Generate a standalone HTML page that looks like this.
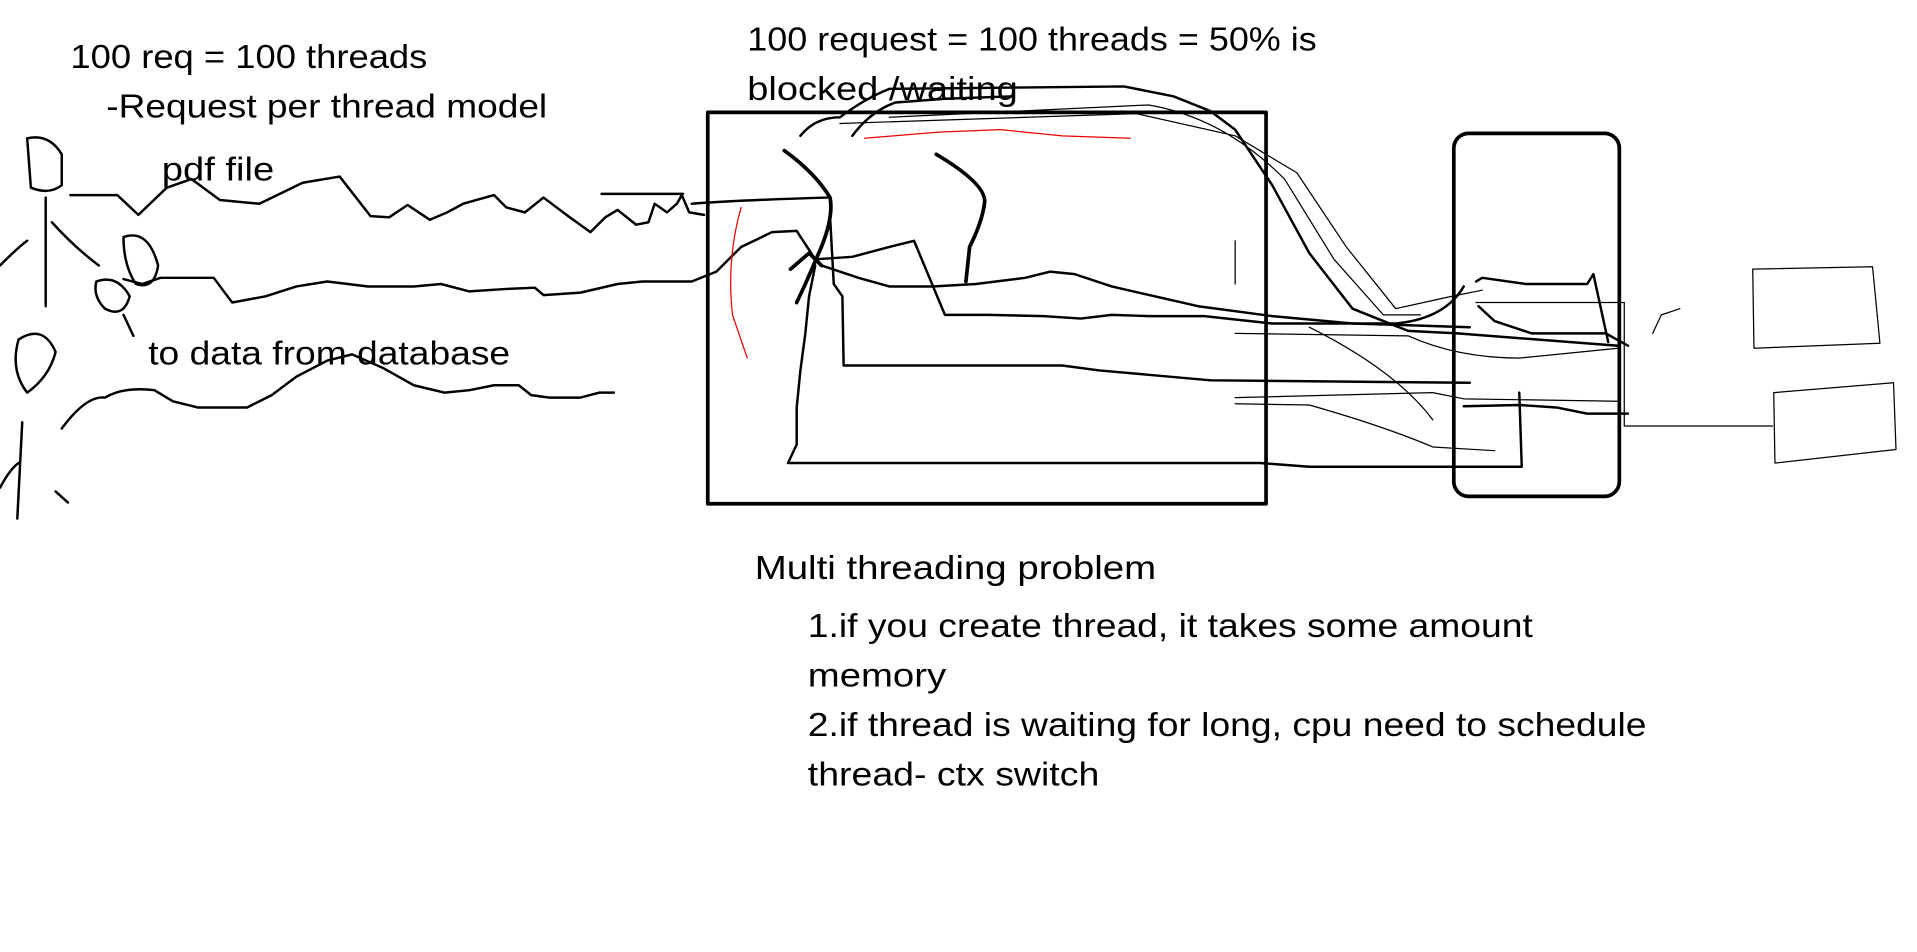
<!DOCTYPE html>
<html><head><meta charset="utf-8"><style>
html,body{margin:0;padding:0;background:#fff;width:1917px;height:952px;overflow:hidden}
svg{display:block}
text{font-family:"Liberation Sans",sans-serif;font-size:27px;fill:#000}
</style></head><body>
<svg width="1917" height="952" viewBox="0 0 1552 771" preserveAspectRatio="none">
<g fill="none" stroke="#000" stroke-linecap="round" stroke-linejoin="round">
<rect x="573" y="91" width="452" height="317" stroke-width="3"/>
<rect x="1177" y="108" width="134" height="294" rx="12" stroke-width="3"/>
<g stroke-width="2">
<path d="M22 112 Q40 108 50 125 L50 150 Q40 158 25 152 L22 112"/>
<path d="M37 160 L37 248"/>
<path d="M0 215 Q15 200 22 195"/>
<path d="M42 180 Q60 200 80 215"/>
<path d="M100 192 Q120 185 128 215 Q125 235 110 230 Q100 215 100 192"/>
<path d="M78 228 Q95 222 105 240 Q100 258 85 250 Q75 240 78 228 M100 255 L108 272"/>
<path d="M15 275 Q35 262 45 285 Q40 305 22 318 Q8 300 15 275"/>
<path d="M18 342 L14 420 M0 395 Q8 380 15 375 M45 398 L55 407"/>
<path d="M57 158 L95 158 L112 174 L135 152 L155 145 L178 162 L210 165 L245 148 L275 143 L300 175 L315 176 L330 166 L348 178 L362 172 L375 165 L400 158 L410 168 L425 172 L440 160 L460 175 L478 188 L490 176 L500 170 L515 182 L525 180 L530 165 L540 172 L548 165 L552 158 L558 172 L570 174 M487 157 L553 157"/>
<path d="M560 165 Q600 162 670 160"/>
<path d="M100 226 L115 230 L130 225 L173 225 L188 245 L215 240 L240 232 L265 228 L298 232 L335 232 L357 230 L380 236 L410 234 L433 233 L440 239 L470 237 L500 230 L520 228 L560 228 L580 220 L600 200 L625 188 L645 187 L660 210 L690 208 L720 200 L740 195 L765 255 L800 255 L845 256 L875 258 L900 255 L930 256 L975 256 L1030 262 L1130 262 Q1170 258 1185 232"/>
<path d="M50 347 Q70 320 85 322 Q100 313 125 316 L140 325 L160 330 L200 330 L220 320 L240 305 L265 292 L285 287 L310 298 L335 312 L360 318 L380 316 L400 312 L420 312 L430 320 L445 322 L470 322 L485 318 L497 318"/>
<path d="M665 215 Q680 220 695 225 L720 232 L755 232 L790 230 L830 225 L850 220 L870 222 L900 232 L935 240 L970 248 L1030 256 L1095 262 L1190 265"/>
<path d="M672 175 L675 230 L682 240 L683 296 L860 296 L890 300 L980 308 L1190 310"/>
<path d="M660 215 L655 240 L652 270 L648 300 L645 330 L645 360 L638 375 L695 375 L1020 375 L1060 378 L1232 378 L1230 318"/>
<path d="M1195 228 L1200 225 L1235 230 L1285 230 L1290 222 L1302 277"/>
<path d="M1197 248 L1210 260 L1240 270 L1300 270 L1318 280 M1180 270 L1310 280"/>
<path d="M1185 329 L1230 328 L1260 330 L1285 335 L1318 335"/>
<path d="M648 110 Q660 95 680 95 Q700 80 720 72 L910 70 L950 78 L980 90 L1000 105 L1030 150 L1060 205 L1095 250 L1140 268 L1180 270"/>
<path d="M690 110 Q705 90 725 83 L765 80 L820 78"/>
</g>
<g stroke-width="3">
<path d="M635 122 Q660 140 672 160 Q675 175 665 200 L652 230 L645 245"/>
<path d="M758 125 Q800 150 797 165 Q795 180 785 200 L782 228"/>
<path d="M640 218 L655 205 L665 215"/>
</g>
<g stroke-width="1">
<path d="M1000 195 L1000 230 M1000 270 L1140 272 Q1180 290 1230 290 L1310 282 M1000 322 L1160 318 Q1180 322 1185 323 L1310 325 M1000 327 L1060 328 Q1120 345 1160 362 L1210 365"/>
<path d="M680 100 L920 92 L1000 110 L1050 140 L1090 200 L1130 250 L1175 240 L1200 235 M720 95 L930 85 Q990 95 1040 145 L1080 210 L1120 255 L1150 255"/>
<path d="M1160 340 Q1130 300 1060 265 M1195 245 L1315 245 L1315 345 L1435 345"/>
<path d="M1419 218 L1516 216 L1522 278 L1420 282 Z M1436 318 L1533 310 L1535 364 L1437 375 Z M1338 270 L1345 255 L1360 250"/>
</g>
<path d="M600 168 Q588 210 593 255 L605 290" stroke="#e00" stroke-width="1"/>
<path d="M700 112 L760 107 L810 105 L860 110 L915 112" stroke="#e00" stroke-width="1"/>
</g>
<g lengthAdjust="spacingAndGlyphs">
<text x="57" y="55" textLength="289" lengthAdjust="spacingAndGlyphs">100 req = 100 threads</text>
<text x="86" y="95" textLength="357" lengthAdjust="spacingAndGlyphs">-Request per thread model</text>
<text x="131" y="146" textLength="91" lengthAdjust="spacingAndGlyphs">pdf file</text>
<text x="120" y="295" textLength="293" lengthAdjust="spacingAndGlyphs">to data from database</text>
<text x="605" y="41" textLength="461" lengthAdjust="spacingAndGlyphs">100 request = 100 threads = 50% is</text>
<text x="605" y="81" textLength="219" lengthAdjust="spacingAndGlyphs">blocked /waiting</text>
<text x="611" y="469" textLength="325" lengthAdjust="spacingAndGlyphs">Multi threading problem</text>
<text x="654" y="516" textLength="587" lengthAdjust="spacingAndGlyphs">1.if you create thread, it takes some amount</text>
<text x="654" y="556" textLength="112" lengthAdjust="spacingAndGlyphs">memory</text>
<text x="654" y="596" textLength="679" lengthAdjust="spacingAndGlyphs">2.if thread is waiting for long, cpu need to schedule</text>
<text x="654" y="636" textLength="236" lengthAdjust="spacingAndGlyphs">thread- ctx switch</text>
</g>
</svg>
</body></html>
